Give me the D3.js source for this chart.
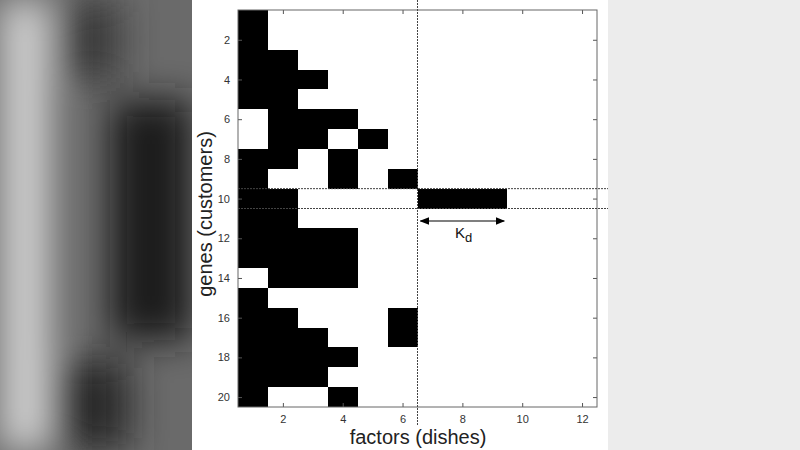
<!DOCTYPE html>
<html><head><meta charset="utf-8">
<script src="https://cdn.jsdelivr.net/npm/d3@7"></script>
<style>body{margin:0;background:#e6e6e6}text{font-family:Arial,"Liberation Sans",sans-serif}</style>
</head><body>
<svg id="chart" width="800" height="450"></svg>
<script>
//rows = genes (customers), each list holds the factors (dishes) switched on
var rows = d3.range(1, 21);
var cols = d3.range(1, 13);
var active = [
  [1], [1], [1, 2], [1, 2, 3], [1, 2],
  [2, 3, 4], [2, 3, 5], [1, 2, 4], [1, 4, 6], [1, 2, 7, 8, 9],
  [1, 2], [1, 2, 3, 4], [1, 2, 3, 4], [2, 3, 4], [1],
  [1, 2, 6], [1, 2, 3, 6], [1, 2, 3, 4], [1, 2, 3], [1, 4]
];
var xTicks = [2, 4, 6, 8, 10, 12];
var yTicks = [2, 4, 6, 8, 10, 12, 14, 16, 18, 20];
var splitCol = 6.5;          //dashed vertical line
var highlightRow = 10;       //gene between the dashed horizontal lines

var svg = d3.select("#chart");

//blurred backdrop either side of the figure
var defs = svg.append("defs");
defs.append("filter").attr("id", "blur").append("feGaussianBlur").attr("stdDeviation", 18);
svg.append("rect").attr("width", 192).attr("height", 450).attr("fill", "#6a6a6a");
var bg = svg.append("g").attr("filter", "url(#blur)");
bg.append("rect").attr("x", 0).attr("y", 0).attr("width", 50).attr("height", 450).attr("fill", "#cfcfcf");
bg.append("rect").attr("x", 60).attr("y", 0).attr("width", 60).attr("height", 80).attr("fill", "#3a3a3a");
bg.append("rect").attr("x", 110).attr("y", 100).attr("width", 82).attr("height", 240).attr("fill", "#1a1a1a");
bg.append("rect").attr("x", 50).attr("y", 360).attr("width", 80).attr("height", 90).attr("fill", "#2a2a2a");
svg.append("rect").attr("x", 608).attr("width", 192).attr("height", 450).attr("fill", "#ececec");
svg.append("rect").attr("x", 192).attr("width", 416).attr("height", 450).attr("fill", "#fff");

var pLeft = 238, pRight = 597, pTop = 10, pBottom = 407;
var x = d3.scaleLinear().domain([0.5, 12.5]).range([pLeft, pRight]);
var y = d3.scaleLinear().domain([0.5, 20.5]).range([pTop, pBottom]);

//cells, drawn with rounded edges so neighbours join without seams
var cells = [];
active.forEach(function (list, i) {
  list.forEach(function (c) { cells.push({ r: rows[i], c: c }); });
});
svg.append("g").attr("shape-rendering", "crispEdges")
  .selectAll("rect").data(cells).enter().append("rect")
  .attr("x", function (d) { return Math.round(x(d.c - 0.5)); })
  .attr("y", function (d) { return Math.round(y(d.r - 0.5)); })
  .attr("width", function (d) { return Math.round(x(d.c + 0.5)) - Math.round(x(d.c - 0.5)); })
  .attr("height", function (d) { return Math.round(y(d.r + 0.5)) - Math.round(y(d.r - 0.5)); })
  .attr("fill", "#000");

//axes with inward ticks on all four sides
var tick = 4;
svg.append("g").attr("transform", "translate(0," + pBottom + ")")
  .call(d3.axisBottom(x).tickValues(xTicks).tickSizeInner(-tick).tickSizeOuter(0).tickPadding(8))
  .call(function (g) { g.select(".domain").remove(); g.selectAll("text").attr("font-size", 11).attr("fill", "#333"); });
svg.append("g").attr("transform", "translate(0," + pTop + ")")
  .call(d3.axisTop(x).tickValues(xTicks).tickSizeInner(-tick).tickSizeOuter(0).tickFormat(""))
  .call(function (g) { g.select(".domain").remove(); });
svg.append("g").attr("transform", "translate(" + pLeft + ",0)")
  .call(d3.axisLeft(y).tickValues(yTicks).tickSizeInner(-tick).tickSizeOuter(0).tickPadding(8))
  .call(function (g) { g.select(".domain").remove(); g.selectAll("text").attr("font-size", 11).attr("fill", "#333"); });
svg.append("g").attr("transform", "translate(" + pRight + ",0)")
  .call(d3.axisRight(y).tickValues(yTicks).tickSizeInner(-tick).tickSizeOuter(0).tickFormat(""))
  .call(function (g) { g.select(".domain").remove(); });
svg.selectAll(".tick line").attr("stroke", "#555");
svg.append("rect").attr("x", pLeft).attr("y", pTop).attr("width", pRight - pLeft).attr("height", pBottom - pTop)
  .attr("fill", "none").attr("stroke", "#666").attr("stroke-width", 1);

//dashed split lines
svg.append("line").attr("x1", x(splitCol)).attr("x2", x(splitCol)).attr("y1", 0).attr("y2", 425)
  .attr("stroke", "#444").attr("stroke-dasharray", "2,1");
[highlightRow - 0.5, highlightRow + 0.5].forEach(function (v) {
  svg.append("line").attr("x1", pLeft).attr("x2", 608).attr("y1", y(v)).attr("y2", y(v))
    .attr("stroke", "#444").attr("stroke-dasharray", "2,1");
});

//K_d arrow
defs.append("marker").attr("id", "head").attr("viewBox", "0 0 10 10").attr("refX", 9).attr("refY", 5)
  .attr("markerWidth", 8).attr("markerHeight", 8).attr("orient", "auto-start-reverse")
  .append("path").attr("d", "M0,1L10,5L0,9z").attr("fill", "#000");
svg.append("line").attr("x1", x(6.6)).attr("x2", x(9.4)).attr("y1", 221).attr("y2", 221)
  .attr("stroke", "#000").attr("stroke-width", 1.2)
  .attr("marker-start", "url(#head)").attr("marker-end", "url(#head)");
var kd = svg.append("text").attr("x", 455).attr("y", 238).attr("font-size", 15).attr("fill", "#111");
kd.append("tspan").text("K");
kd.append("tspan").attr("dy", 4).attr("font-size", 13).text("d");

//axis titles
svg.append("text").attr("x", 418).attr("y", 444).attr("text-anchor", "middle").attr("font-size", 20)
  .attr("fill", "#222").text("factors (dishes)");
svg.append("text").attr("transform", "translate(212,214) rotate(-90)").attr("text-anchor", "middle")
  .attr("font-size", 20).attr("fill", "#222").text("genes (customers)");
</script>
</body></html>
